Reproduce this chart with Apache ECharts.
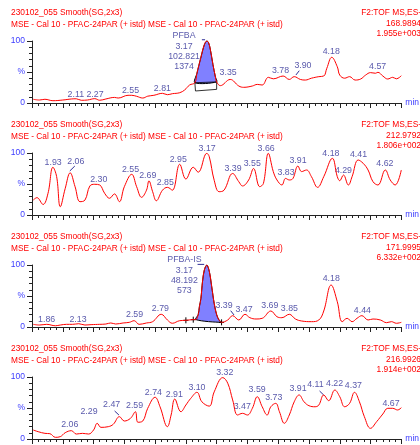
<!DOCTYPE html>
<html><head><meta charset="utf-8">
<script src="https://cdn.jsdelivr.net/npm/echarts@6/dist/echarts.min.js"></script>
<style>html,body{margin:0;padding:0;background:#fff}#c{width:420px;height:445px}</style>
</head><body><div id="c"></div>
<script>
// ---------- data ----------
const xMin = 1.75, xMax = 4.75, xStep = 0.25;
const titleLine1 = '230102_055 Smooth(SG,2x3)';
const titleLine2 = 'MSE - Cal 10 - PFAC-24PAR (+ istd) MSE - Cal 10 - PFAC-24PAR (+ istd)';
const functionText = 'F2:TOF MS,ES-';
const masses = ['168.9894', '212.9792', '171.9995', '216.9926'];
const intensities = ['1.955e+003', '1.806e+002', '6.332e+002', '1.914e+002'];
const yTickValues = [0, 50, 100];
const yTickText = ['0', '%', '100'];
const yMinorTicks = [10, 20, 30, 40, 60, 70, 80, 90];

const p1 = [[1.76,6],[1.81,4.8],[1.855,6],[1.92,3.7],[2.0,4.8],[2.07,6.5],[2.11,6.8],[2.15,4.4],[2.2,4.8],[2.26,7],[2.3,4.4],[2.35,6.5],[2.42,9],[2.45,8],[2.53,12.4],[2.56,12.4],[2.6,10.8],[2.65,8],[2.69,11],[2.74,12.4],[2.81,15.6],[2.85,13.4],[2.89,15],[2.95,16.6],[2.99,21],[3.03,29],[3.073,32.7],[3.09,48],[3.12,72],[3.15,94],[3.17,100],[3.185,97],[3.2,85],[3.22,62],[3.24,42],[3.25,34],[3.28,28],[3.36,38],[3.43,27.4],[3.47,25.3],[3.54,27.4],[3.58,30],[3.62,29],[3.67,41.4],[3.71,39],[3.79,43.5],[3.84,38],[3.88,42.5],[3.93,38],[3.97,37],[4.02,40],[4.08,42.5],[4.12,43.5],[4.145,56],[4.185,73.7],[4.23,58.5],[4.25,45],[4.29,40],[4.33,42.5],[4.375,37],[4.42,38.7],[4.46,45],[4.5,49],[4.54,48],[4.56,49.5],[4.6,43.5],[4.64,38.7],[4.68,41.4],[4.71,39],[4.75,44]];
const p2 = [[1.76,24],[1.79,28],[1.84,17],[1.88,35],[1.92,77],[1.95,62],[1.98,13.4],[2.02,43],[2.06,68],[2.1,45.6],[2.14,21.5],[2.18,24],[2.22,46.8],[2.26,49.5],[2.3,48.4],[2.34,35],[2.38,27],[2.42,34],[2.46,21.5],[2.5,45.6],[2.56,65.6],[2.6,45.6],[2.64,28.5],[2.68,40],[2.7,55],[2.73,37.6],[2.76,23],[2.81,40],[2.85,44.6],[2.89,40],[2.95,81.8],[3.0,58],[3.06,77],[3.1,69],[3.17,99.5],[3.19,94],[3.23,56],[3.27,37.6],[3.31,40],[3.38,67],[3.43,53.7],[3.46,46.8],[3.51,56.5],[3.55,75],[3.6,45.6],[3.63,51],[3.67,99.5],[3.71,70],[3.74,56.5],[3.78,48.4],[3.81,59],[3.84,56.5],[3.87,59],[3.91,79],[3.94,70],[3.98,72.6],[4.02,61.8],[4.07,44.6],[4.12,61.8],[4.19,91.4],[4.23,61.8],[4.25,55.3],[4.28,64.5],[4.32,48.4],[4.35,61.8],[4.4,88.7],[4.44,83.4],[4.48,72.6],[4.52,53.7],[4.56,48.4],[4.62,72.6],[4.66,56.5],[4.7,48.4],[4.75,72.6]];
const p3 = [[1.76,4.3],[1.81,3.2],[1.87,4.3],[1.94,2],[1.98,3.2],[2.03,4.3],[2.08,4.3],[2.13,5.3],[2.18,3.2],[2.23,3.8],[2.3,4.3],[2.35,4.8],[2.39,6.5],[2.43,4.8],[2.49,6.5],[2.54,7.5],[2.58,10.2],[2.62,4.3],[2.68,6.5],[2.73,8.6],[2.8,20.5],[2.85,11.3],[2.89,6],[2.95,10.2],[3.0,10.8],[3.05,11.8],[3.08,12],[3.1,20],[3.11,33],[3.122,46],[3.135,73],[3.15,92],[3.17,100],[3.19,90],[3.21,65],[3.23,38],[3.25,20],[3.27,11],[3.29,7.5],[3.34,11.3],[3.38,18.3],[3.43,11.3],[3.48,20.5],[3.52,15],[3.57,12.9],[3.62,14],[3.69,25.8],[3.74,16.6],[3.78,15],[3.84,20.5],[3.89,12.9],[3.94,9.7],[4.02,8.6],[4.08,11.3],[4.12,25.8],[4.18,67.7],[4.23,40.8],[4.27,8.6],[4.31,14],[4.35,8.6],[4.39,14],[4.43,18.3],[4.48,11.3],[4.52,12.9],[4.58,11.3],[4.63,7],[4.67,8.6],[4.71,6],[4.75,7.5]];
const p4 = [[1.76,14.5],[1.8,11.8],[1.855,9.1],[1.895,8.6],[1.94,2.7],[1.98,3.8],[2.02,10.2],[2.07,13.4],[2.11,8],[2.16,9.1],[2.21,8],[2.25,14.5],[2.28,25.3],[2.31,18.8],[2.37,19.9],[2.41,23.7],[2.46,36],[2.5,29],[2.55,33.3],[2.59,44],[2.61,27],[2.65,29],[2.69,49.5],[2.75,67.3],[2.79,52],[2.85,19.9],[2.88,38.7],[2.91,64.5],[2.96,44],[3.0,54.8],[3.04,65.6],[3.09,75.3],[3.13,60],[3.19,53],[3.23,76],[3.3,99],[3.34,90],[3.38,63],[3.42,38.7],[3.46,41.4],[3.5,38.7],[3.54,49.5],[3.58,68.2],[3.62,52],[3.66,38.7],[3.69,52],[3.73,57.5],[3.76,44],[3.8,25.3],[3.84,38.7],[3.88,60],[3.92,71],[3.96,60],[4.0,53.7],[4.05,52],[4.08,54.8],[4.12,71],[4.16,61.8],[4.21,79],[4.25,68.2],[4.29,52],[4.33,57.5],[4.37,75.3],[4.41,60],[4.45,36],[4.5,17.2],[4.55,28],[4.6,40.3],[4.64,49.5],[4.68,49.5],[4.72,46.8],[4.75,50.5]];

const p1Labels = [[2.106,13.4,'2.11'],[2.262,13.4,'2.27'],[2.55,20.5,'2.55'],[2.809,23.7,'2.81'],[3.343,48.9,'3.35'],[3.769,51.6,'3.78'],[3.951,59.7,'3.90'],[4.181,82.7,'4.18'],[4.558,58.5,'4.57'],
  [2.985,108,'PFBA'],[2.985,90.8,'3.17'],[2.985,74.7,'102.821'],[2.985,58.5,'1374']];
const p2Labels = [[1.922,85,'1.93'],[2.106,86,'2.06'],[2.292,57.6,'2.30'],[2.55,73.7,'2.55'],[2.69,62.9,'2.69'],[2.833,52,'2.85'],[2.938,89.8,'2.95'],[3.173,107.6,'3.17'],[3.383,75.3,'3.39'],[3.539,83.4,'3.55'],[3.652,107.6,'3.66'],[3.814,68.9,'3.83'],[3.911,87.1,'3.91'],[4.178,99.5,'4.18'],[4.28,71.5,'4.29'],[4.402,96.8,'4.41'],[4.617,82.3,'4.62']];
const p3Labels = [[1.869,11.8,'1.86'],[2.124,11.8,'2.13'],[2.583,19.4,'2.59'],[2.793,29,'2.79'],[3.31,34.4,'3.39'],[3.472,27.4,'3.47'],[3.682,34.4,'3.69'],[3.841,29,'3.85'],[4.181,77.4,'4.18'],[4.434,25.8,'4.44'],
  [2.988,108,'PFBA-IS'],[2.988,91.5,'3.17'],[2.988,75,'48.192'],[2.988,58.5,'573']];
const p4Labels = [[2.057,22.6,'2.06'],[2.213,44,'2.29'],[2.397,54.8,'2.47'],[2.583,53.7,'2.59'],[2.736,75.3,'2.74'],[2.906,72.1,'2.91'],[3.09,83.4,'3.10'],[3.316,107.6,'3.32'],[3.458,52,'3.47'],[3.579,79,'3.59'],[3.714,67.3,'3.73'],[3.911,80.6,'3.91'],[4.052,87.1,'4.11'],[4.208,88.7,'4.22'],[4.361,86,'4.37'],[4.666,57.6,'4.67']];

// integrated peaks [start, end] and annotation marks
const p1Peak = [3.073, 3.25];
const p1Box = [[3.073,32.7],[3.25,34],[3.25,22],[3.078,19.4]];
const p1Leaders = [[3.894,45.2,3.921,52.1],[3.13,102,3.156,102]];
const p2Leaders = [[2.057,71,2.098,79]];
const p3Peak = [3.08, 3.29];
const p3Leaders = [[3.364,26.3,3.391,19.4],[3.095,101,3.149,101]];
const p3Marks = [[3.0,10.8],[3.06,11.8],[3.29,7.5]];
const p4Leaders = [[2.421,45.2,2.456,38.7],[4.086,77.4,4.119,71]];

// ---------- chart ----------
const curves = [p1, p2, p3, p4];
const labels = [p1Labels, p2Labels, p3Labels, p4Labels];
const annotations = [
  {peak: p1Peak, box: p1Box, leaders: p1Leaders, marks: []},
  {peak: null, box: null, leaders: p2Leaders, marks: []},
  {peak: p3Peak, box: null, leaders: p3Leaders, marks: p3Marks},
  {peak: null, box: null, leaders: p4Leaders, marks: []}
];
const FONT = '"Liberation Sans", Arial, sans-serif';
const RED = '#ff0000', NAVY = '#2e2e96', BLUE = '#3c3cff';
const yMinVal = -6.5;
const plotH = 62 * (100 - yMinVal) / 100;

const grids = [], xAxes = [], yAxes = [], series = [], graphics = [];
for (let k = 0; k < 4; k++) {
  const top = 41 + 112 * k;
  grids.push({left: 32, width: 371, top: top, height: plotH});
  xAxes.push({
    type: 'value', gridIndex: k, min: xMin, max: xMax, interval: xStep,
    axisLine: {lineStyle: {color: '#222', width: 1}},
    axisTick: {length: 5, lineStyle: {color: '#222'}},
    minorTick: {show: true, splitNumber: 5, length: 3, lineStyle: {color: '#222'}},
    axisLabel: {show: false}, splitLine: {show: false}, minorSplitLine: {show: false},
    name: 'min', nameLocation: 'end', nameGap: 4,
    nameTextStyle: {color: BLUE, fontSize: 8.5, fontFamily: FONT, verticalAlign: 'middle', padding: [0, 0, 2, 0]}
  });
  yAxes.push({
    type: 'value', gridIndex: k, min: yMinVal, max: 100, position: 'left', offset: 0,
    axisLine: {show: true, lineStyle: {color: '#222', width: 1}},
    axisTick: {show: true, length: 5, customValues: yTickValues, lineStyle: {color: '#222'}},
    axisLabel: {show: true, customValues: yTickValues, margin: 7, color: BLUE, fontSize: 8.5, fontFamily: FONT,
      formatter: v => yTickText[yTickValues.indexOf(v)]},
    splitLine: {show: false}
  });
  yAxes.push({
    type: 'value', gridIndex: k, min: yMinVal, max: 100, position: 'left', offset: 0,
    axisLine: {show: false},
    axisTick: {show: true, length: 3, customValues: yMinorTicks, lineStyle: {color: '#222'}},
    axisLabel: {show: false}, splitLine: {show: false}
  });
  series.push({
    type: 'line', xAxisIndex: k, yAxisIndex: 2 * k, data: curves[k], smooth: 0.4,
    symbol: 'none', lineStyle: {color: RED, width: 1}, silent: true
  });
  const ann = annotations[k];
  const curve = curves[k];
  series.push({
    type: 'custom', xAxisIndex: k, yAxisIndex: 2 * k, data: [[xMin, 0]], silent: true, clip: false,
    renderItem: function (params, api) {
      const children = [];
      if (ann.peak) {
        const pts = curve.filter(p => p[0] >= ann.peak[0] - 1e-9 && p[0] <= ann.peak[1] + 1e-9).map(p => api.coord(p));
        children.push({type: 'polygon', shape: {points: pts, smooth: 0.3}, style: {fill: '#8080ff', stroke: '#000', lineWidth: 1}});
      }
      if (ann.box) {
        children.push({type: 'polygon', shape: {points: ann.box.map(p => api.coord(p))}, style: {fill: 'none', stroke: '#000', lineWidth: 0.8}});
      }
      for (const l of ann.leaders) {
        const a = api.coord([l[0], l[1]]), b = api.coord([l[2], l[3]]);
        children.push({type: 'line', shape: {x1: a[0], y1: a[1], x2: b[0], y2: b[1]}, style: {stroke: NAVY, lineWidth: 1}});
      }
      for (const m of ann.marks) {
        const c = api.coord(m);
        children.push({type: 'line', shape: {x1: c[0], y1: c[1] - 3, x2: c[0], y2: c[1] + 3}, style: {stroke: '#000', lineWidth: 1}});
        children.push({type: 'line', shape: {x1: c[0] - 2.5, y1: c[1], x2: c[0] + 2.5, y2: c[1]}, style: {stroke: '#000', lineWidth: 1}});
      }
      return {type: 'group', children: children};
    }
  });
  series.push({
    type: 'scatter', xAxisIndex: k, yAxisIndex: 2 * k, data: labels[k], symbolSize: 1, clip: false, silent: true,
    itemStyle: {color: 'rgba(0,0,0,0)'},
    label: {show: true, position: 'inside', formatter: p => p.data[2], color: NAVY, fontSize: 8.8, fontFamily: FONT}
  });
  // header texts
  graphics.push({type: 'text', x: 11, y: 13 + 112 * k, style: {text: titleLine1, fill: RED, font: '8.4px ' + FONT, align: 'left', verticalAlign: 'middle'}});
  graphics.push({type: 'text', x: 11, y: 24.5 + 112 * k, style: {text: titleLine2, fill: RED, font: '8.3px ' + FONT, align: 'left', verticalAlign: 'middle'}});
  graphics.push({type: 'text', x: 421, y: 13 + 112 * k, style: {text: functionText, fill: RED, font: '8.4px ' + FONT, align: 'right', verticalAlign: 'middle'}});
  graphics.push({type: 'text', x: 421, y: 24 + 112 * k, style: {text: masses[k], fill: RED, font: '8.4px ' + FONT, align: 'right', verticalAlign: 'middle'}});
  graphics.push({type: 'text', x: 421, y: 34 + 112 * k, style: {text: intensities[k], fill: RED, font: '8.4px ' + FONT, align: 'right', verticalAlign: 'middle'}});
}

const chart = echarts.init(document.getElementById('c'), null, {renderer: 'canvas'});
chart.setOption({
  animation: false,
  backgroundColor: '#fff',
  grid: grids, xAxis: xAxes, yAxis: yAxes, series: series, graphic: graphics
});
</script></body></html>
